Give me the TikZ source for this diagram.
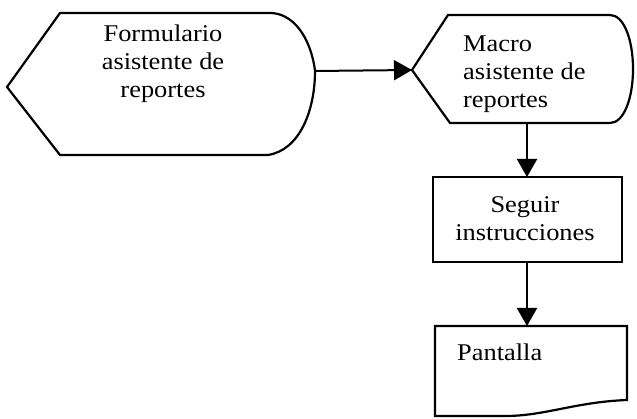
\documentclass[tikz,border=0pt]{standalone}
\usepackage{fontspec}
\setmainfont{Liberation Serif}[FakeStretch=1.1]
\usetikzlibrary{arrows.meta}
\begin{document}
\begin{tikzpicture}[x=1pt,y=-1pt,
  shapeline/.style={draw=black,line width=2.2pt,line join=miter},
  conn/.style={draw=black,line width=2pt,-{Triangle[length=18pt,width=20pt]}},
  lbl/.style={inner sep=0pt,font=\fontsize{24}{28}\selectfont,text=black}]
\useasboundingbox (0,0) rectangle (637,419);
% shape 1: display
\draw[shapeline] (7,87) -- (60,13) -- (272,13)
  .. controls (298,15) and (312,45) .. (315,71)
  .. controls (315,110) and (300,150) .. (268,155)
  -- (60,155) -- cycle;
\coordinate (fout) at (315,71);
\node[lbl,align=center] (form) at (163,64) {Formulario\\asistente de\\reportes};
% shape 2: display
\draw[shapeline] (412,70) -- (448,15) -- (610,15)
  .. controls (624,15) and (633,40) .. (633,69)
  .. controls (633,98) and (624,123) .. (610,123)
  -- (450,123) -- cycle;
\coordinate (min) at (412,70);
\coordinate (mout) at (527,123);
\node[lbl,align=left,anchor=west] (macro) at (463,74) {Macro\\asistente de\\reportes};
% box 3: process
\draw[shapeline] (433,177) rectangle (622,262);
\coordinate (sin) at (527,177);
\coordinate (sout) at (527,262);
\node[lbl,align=center] (seguir) at (525,219) {Seguir\\instrucciones};
% box 4: document
\draw[shapeline] (435,326) -- (627,326) -- (627,400)
  .. controls (575,402) and (545,416) .. (505,416)
  -- (435,416) -- cycle;
\coordinate (pin) at (527,326);
\node[lbl,anchor=base west] (pant) at (457,360) {Pantalla};
% connectors
\draw[conn] (fout) -- (min);
\draw[conn] (mout) -- (sin);
\draw[conn] (sout) -- (pin);
\end{tikzpicture}
\end{document}
